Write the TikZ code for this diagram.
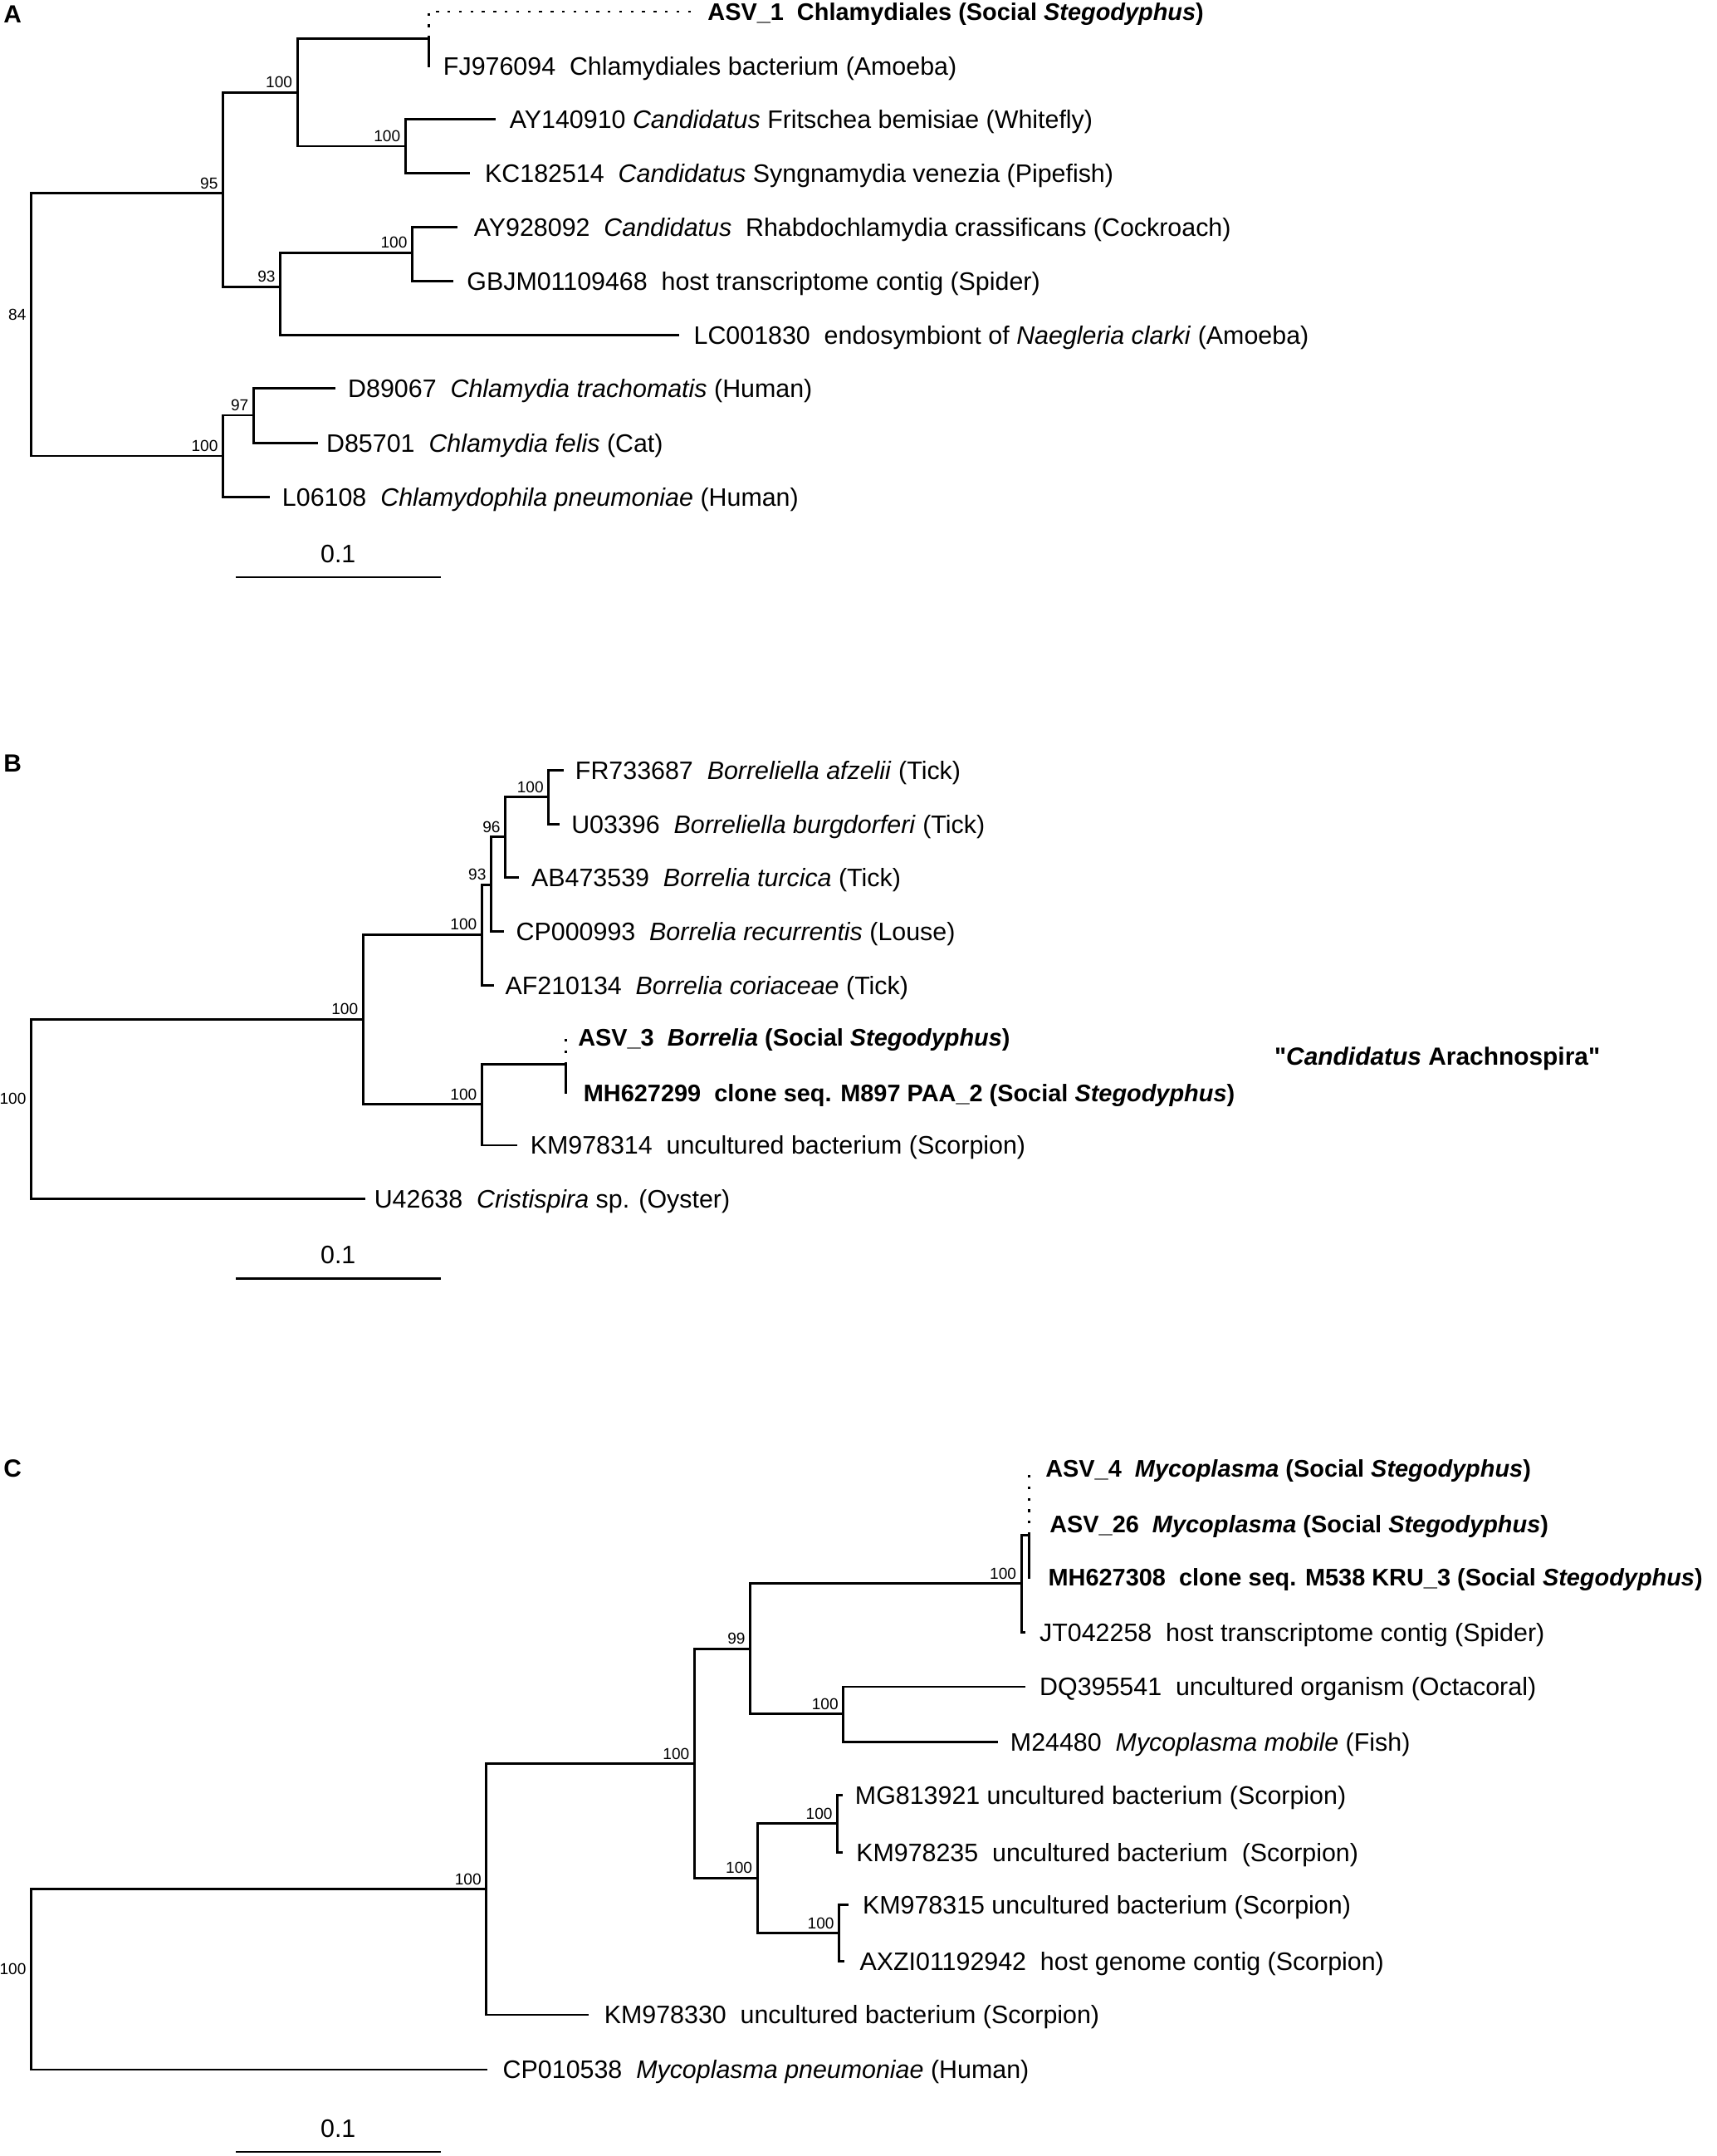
\documentclass[tikz,border=0pt]{standalone}
\usepackage{fontspec}
\setmainfont{Liberation Sans}
\newfontfamily\quotefont{Liberation Sans}
\usetikzlibrary{positioning}
\newcommand{\leaffont}{\fontsize{18.3}{22}\selectfont}
\newcommand{\asvfont}{\fontsize{17.4}{21}\selectfont\bfseries}
\newcommand{\bootfont}{\fontsize{11.5}{13}\selectfont}
\newcommand{\panelfont}{\fontsize{18}{21}\selectfont\bfseries}
\begin{document}
\begin{tikzpicture}[x=1pt,y=-1pt,
  branch/.style={line width=1.7pt,line cap=rect},
  dotline/.style={line width=1.7pt,dash pattern=on 2pt off 6.3pt},
  leaf/.style={inner sep=0pt,font=\leaffont,text height=13.1pt,text depth=0pt},
  asv/.style={inner sep=0pt,font=\asvfont,text height=12.5pt,text depth=0pt},
  boot/.style={inner sep=0pt,font=\bootfont,anchor=south east,xshift=-3.5pt,yshift=3pt},
  panel/.style={inner sep=0pt,font=\panelfont,anchor=north west}]
  \useasboundingbox (0,0) rectangle (1245,1563);

  % A
  \node[panel] (A) at (2.5,4) {A};
  \coordinate (a84) at (22.6,235.3);
  \coordinate (a95) at (161.7,140);
  \coordinate (a100a) at (215.7,67);
  \coordinate (aFJ) at (311,28);
  \coordinate (a100b) at (294,106);
  \coordinate (a93) at (203.3,208);
  \coordinate (a100c) at (299,183.2);
  \coordinate (a100d) at (161.7,330.5);
  \coordinate (a97) at (183.9,301);
  \coordinate (tASV1) at (502,8.4);
  \coordinate (tFJ) at (311,48);
  \coordinate (tAY14) at (358.6,86.3);
  \coordinate (tKC) at (340,125.4);
  \coordinate (tAY92) at (330.8,164.6);
  \coordinate (tGB) at (327.6,203.7);
  \coordinate (tLC) at (491.6,242.8);
  \coordinate (tD89) at (242.3,281.3);
  \coordinate (tD85) at (229.5,321.1);
  \coordinate (tL06) at (194.6,360.2);

  \draw[branch] (a84) |- (a95);
  \draw[branch] (a84) |- (a100d);
  \draw[branch] (a95) |- (a100a);
  \draw[branch] (a95) |- (a93);
  \draw[branch] (a100a) |- (aFJ) -- (tFJ);
  \draw[branch] (a100a) |- (a100b);
  \draw[branch] (a100b) |- (tAY14);
  \draw[branch] (a100b) |- (tKC);
  \draw[branch] (a93) |- (a100c);
  \draw[branch] (a93) |- (tLC);
  \draw[branch] (a100c) |- (tAY92);
  \draw[branch] (a100c) |- (tGB);
  \draw[branch] (a100d) |- (a97);
  \draw[branch] (a100d) |- (tL06);
  \draw[branch] (a97) |- (tD89);
  \draw[branch] (a97) |- (tD85);
  \draw[dotline] (aFJ) |- (tASV1);

  \node[asv,right=11pt of tASV1] (lASV1) {ASV\_1~~Chlamydiales (Social \textit{Stegodyphus})};
  \node[leaf,right=10.3pt of tFJ] (lFJ) {FJ976094~~Chlamydiales bacterium (Amoeba)};
  \node[leaf,right=10.8pt of tAY14] (lAY14) {AY140910 \textit{Candidatus} Fritschea bemisiae (Whitefly)};
  \node[leaf,right=11.5pt of tKC] (lKC) {KC182514~~\textit{Candidatus} Syngnamydia venezia (Pipefish)};
  \node[leaf,right=12.7pt of tAY92] (lAY92) {AY928092~~\textit{Candidatus}~~Rhabdochlamydia crassificans (Cockroach)};
  \node[leaf,right=10.8pt of tGB] (lGB) {GBJM01109468~~host transcriptome contig (Spider)};
  \node[leaf,right=11.3pt of tLC] (lLC) {LC001830~~endosymbiont of \textit{Naegleria clarki} (Amoeba)};
  \node[leaf,right=9.9pt of tD89] (lD89) {D89067~~\textit{Chlamydia trachomatis} (Human)};
  \node[leaf,right=7pt of tD85] (lD85) {D85701~~\textit{Chlamydia felis} (Cat)};
  \node[leaf,right=9.9pt of tL06] (lL06) {L06108~~\textit{Chlamydophila pneumoniae} (Human)};

  \node[boot] (bA84) at (a84) {84};
  \node[boot] (bA95) at (a95) {95};
  \node[boot] (bA100a) at (a100a) {100};
  \node[boot] (bA100b) at (a100b) {100};
  \node[boot] (bA93) at (a93) {93};
  \node[boot] (bA100c) at (a100c) {100};
  \node[boot] (bA100d) at (a100d) {100};
  \node[boot] (bA97) at (a97) {97};

  \coordinate (sA1) at (171.6,418.4);
  \coordinate (sA2) at (318.9,418.4);
  \draw[branch] (sA1) -- (sA2);
  \node[leaf] (sAl) at (245.2,401.6) {0.1};

  % B
  \node[panel] (B) at (2.5,547) {B};
  \coordinate (b100) at (22.6,804);
  \coordinate (b100a) at (263.3,739);
  \coordinate (b100b) at (349.5,677.5);
  \coordinate (b93) at (356.2,641.4);
  \coordinate (b96) at (366.5,606.7);
  \coordinate (b100d) at (397.9,577.8);
  \coordinate (b100c) at (349.5,800.6);
  \coordinate (bMH) at (410.2,771.8);
  \coordinate (tFR) at (407.8,558.2);
  \coordinate (tU03) at (405.1,597.5);
  \coordinate (tAB) at (375.3,636.1);
  \coordinate (tCP99) at (364.6,675);
  \coordinate (tAF) at (357.4,714.3);
  \coordinate (tASV3) at (410.2,752);
  \coordinate (tMH99) at (410.2,792.2);
  \coordinate (tKM14) at (374.5,830.3);
  \coordinate (tU42) at (264,869.1);

  \draw[branch] (b100) |- (b100a);
  \draw[branch] (b100) |- (tU42);
  \draw[branch] (b100a) |- (b100b);
  \draw[branch] (b100a) |- (b100c);
  \draw[branch] (b100b) |- (b93);
  \draw[branch] (b100b) |- (tAF);
  \draw[branch] (b93) |- (b96);
  \draw[branch] (b93) |- (tCP99);
  \draw[branch] (b96) |- (b100d);
  \draw[branch] (b96) |- (tAB);
  \draw[branch] (b100d) |- (tFR);
  \draw[branch] (b100d) |- (tU03);
  \draw[branch] (b100c) |- (bMH) -- (tMH99);
  \draw[branch] (b100c) |- (tKM14);
  \draw[dotline] (bMH) -- (tASV3);

  \node[leaf,right=9.2pt of tFR] (lFR) {FR733687~~\textit{Borreliella afzelii} (Tick)};
  \node[leaf,right=9.1pt of tU03] (lU03) {U03396~~\textit{Borreliella burgdorferi} (Tick)};
  \node[leaf,right=9.9pt of tAB] (lAB) {AB473539~~\textit{Borrelia turcica} (Tick)};
  \node[leaf,right=9.5pt of tCP99] (lCP99) {CP000993~~\textit{Borrelia recurrentis} (Louse)};
  \node[leaf,right=8.8pt of tAF] (lAF) {AF210134~~\textit{Borrelia coriaceae} (Tick)};
  \node[asv,right=8.8pt of tASV3] (lASV3) {ASV\_3~~\textit{Borrelia} (Social \textit{Stegodyphus})};
  \node[asv,right=12.8pt of tMH99] (lMH99) {MH627299~~clone seq. M897 PAA\_2 (Social \textit{Stegodyphus})};
  \node[leaf,right=9.9pt of tKM14] (lKM14) {KM978314~~uncultured bacterium (Scorpion)};
  \node[leaf,right=7.2pt of tU42] (lU42) {U42638~~\textit{Cristispira} sp. (Oyster)};
  \node[inner sep=0pt,anchor=west,font=\quotefont\fontsize{18}{21}\selectfont\bfseries,text height=12.9pt,text depth=0pt] (cand) at (924,766) {"\textit{Candidatus} Arachnospira"};

  \node[boot] (bB100) at (b100) {100};
  \node[boot] (bB100a) at (b100a) {100};
  \node[boot] (bB100b) at (b100b) {100};
  \node[boot] (bB93) at (b93) {93};
  \node[boot] (bB96) at (b96) {96};
  \node[boot] (bB100d) at (b100d) {100};
  \node[boot] (bB100c) at (b100c) {100};

  \coordinate (sB1) at (171.6,926.9);
  \coordinate (sB2) at (318.9,926.9);
  \draw[branch] (sB1) -- (sB2);
  \node[leaf] (sBl) at (245.2,909.5) {0.1};

  % C
  \node[panel] (C) at (2.5,1058) {C};
  \coordinate (c100) at (22.6,1435);
  \coordinate (c100a) at (352.7,1369.6);
  \coordinate (c100b) at (503.6,1278.6);
  \coordinate (c99) at (544.1,1195.4);
  \coordinate (c100c) at (740.7,1147.9);
  \coordinate (cMH) at (746.4,1112.8);
  \coordinate (c100d) at (611.6,1242.5);
  \coordinate (c100e) at (549.2,1361.4);
  \coordinate (c100f) at (607.3,1321.9);
  \coordinate (c100g) at (608.5,1401.4);
  \coordinate (tASV4) at (746.4,1064.6);
  \coordinate (tASV26) at (746.4,1104.8);
  \coordinate (tMH08) at (746.4,1143.5);
  \coordinate (tJT) at (742.7,1183.6);
  \coordinate (tDQ) at (742.7,1222.8);
  \coordinate (tM24) at (723,1262.9);
  \coordinate (tMG) at (610.2,1301.4);
  \coordinate (tKM35) at (610.2,1343);
  \coordinate (tKM15) at (614.5,1381.1);
  \coordinate (tAX) at (611.5,1421.8);
  \coordinate (tKM30) at (426.1,1460.6);
  \coordinate (tCP38) at (352.7,1500.4);

  \draw[branch] (c100) |- (c100a);
  \draw[branch] (c100) |- (tCP38);
  \draw[branch] (c100a) |- (c100b);
  \draw[branch] (c100a) |- (tKM30);
  \draw[branch] (c100b) |- (c99);
  \draw[branch] (c100b) |- (c100e);
  \draw[branch] (c99) |- (c100c);
  \draw[branch] (c99) |- (c100d);
  \draw[branch] (c100c) |- (cMH) -- (tMH08);
  \draw[branch] (c100c) |- (tJT);
  \draw[branch] (c100d) |- (tDQ);
  \draw[branch] (c100d) |- (tM24);
  \draw[branch] (c100e) |- (c100f);
  \draw[branch] (c100e) |- (c100g);
  \draw[branch] (c100f) |- (tMG);
  \draw[branch] (c100f) |- (tKM35);
  \draw[branch] (c100g) |- (tKM15);
  \draw[branch] (c100g) |- (tAX);
  \draw[dotline] (cMH) -- (tASV4);

  \node[asv,right=11.6pt of tASV4] (lASV4) {ASV\_4~~\textit{Mycoplasma} (Social \textit{Stegodyphus})};
  \node[asv,right=14.6pt of tASV26] (lASV26) {ASV\_26~~\textit{Mycoplasma} (Social \textit{Stegodyphus})};
  \node[asv,right=13.6pt of tMH08] (lMH08) {MH627308~~clone seq. M538 KRU\_3 (Social \textit{Stegodyphus})};
  \node[leaf,right=11pt of tJT] (lJT) {JT042258~~host transcriptome contig (Spider)};
  \node[leaf,right=11pt of tDQ] (lDQ) {DQ395541~~uncultured organism (Octacoral)};
  \node[leaf,right=9.5pt of tM24] (lM24) {M24480~~\textit{Mycoplasma mobile} (Fish)};
  \node[leaf,right=9.7pt of tMG] (lMG) {MG813921 uncultured bacterium (Scorpion)};
  \node[leaf,right=10.5pt of tKM35] (lKM35) {KM978235~~uncultured bacterium~~(Scorpion)};
  \node[leaf,right=10.9pt of tKM15] (lKM15) {KM978315 uncultured bacterium (Scorpion)};
  \node[leaf,right=11.8pt of tAX] (lAX) {AXZI01192942~~host genome contig (Scorpion)};
  \node[leaf,right=11.9pt of tKM30] (lKM30) {KM978330~~uncultured bacterium (Scorpion)};
  \node[leaf,right=11.8pt of tCP38] (lCP38) {CP010538~~\textit{Mycoplasma pneumoniae} (Human)};

  \node[boot] (bC100) at (c100) {100};
  \node[boot] (bC100a) at (c100a) {100};
  \node[boot] (bC100b) at (c100b) {100};
  \node[boot] (bC99) at (c99) {99};
  \node[boot] (bC100c) at (c100c) {100};
  \node[boot] (bC100d) at (c100d) {100};
  \node[boot] (bC100e) at (c100e) {100};
  \node[boot] (bC100f) at (c100f) {100};
  \node[boot] (bC100g) at (c100g) {100};

  \coordinate (sC1) at (171.6,1560);
  \coordinate (sC2) at (318.9,1560);
  \draw[branch] (sC1) -- (sC2);
  \node[leaf] (sCl) at (245.2,1543) {0.1};
\end{tikzpicture}
\end{document}
